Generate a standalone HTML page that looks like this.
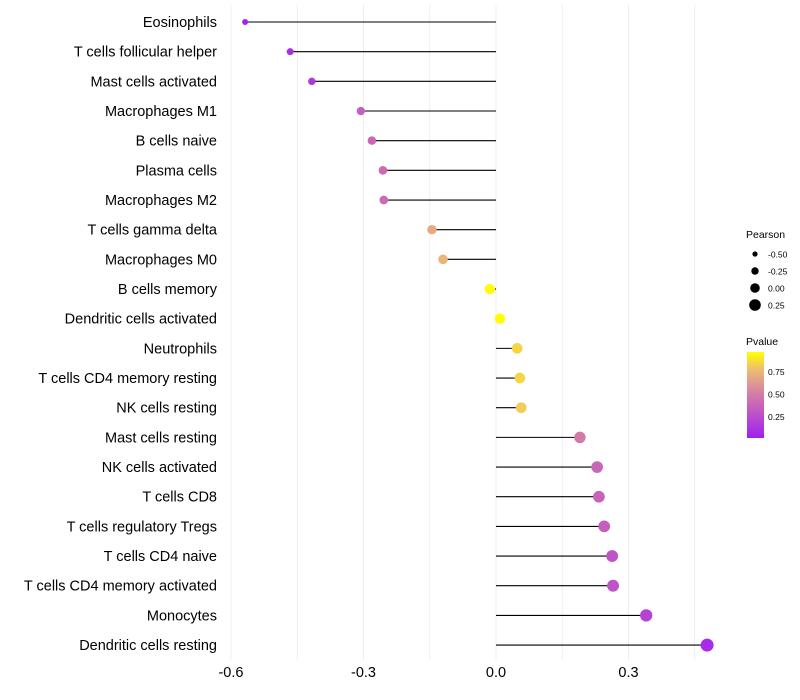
<!DOCTYPE html>
<html><head><meta charset="utf-8"><style>
body{margin:0;background:#fff;}
svg{display:block;font-family:"Liberation Sans",sans-serif;}
</style></head><body>
<svg id="chart" width="800" height="700">
<defs>
<linearGradient id="pg" x1="0" y1="1" x2="0" y2="0">
<stop offset="0" stop-color="#a020f0"/><stop offset="0.5" stop-color="#d47aa8"/><stop offset="0.78" stop-color="#ecb878"/><stop offset="1" stop-color="#ffff00"/>
</linearGradient>
</defs>
<g id="grid"></g><g id="marks"></g><g id="labels"></g>
<g font-size="9.5">
<text x="746" y="238" font-size="10.5">Pearson</text>
<circle cx="755" cy="254" r="2.6" fill="#000"/><text x="768" y="257.5" font-size="8.5">-0.50</text>
<circle cx="755" cy="271" r="3.7" fill="#000"/><text x="768" y="274.5" font-size="8.5">-0.25</text>
<circle cx="755" cy="288" r="4.8" fill="#000"/><text x="768" y="291.5" font-size="8.5">0.00</text>
<circle cx="755" cy="305" r="5.8" fill="#000"/><text x="768" y="308.5" font-size="8.5">0.25</text>
</g>
<g>
<text x="746" y="345" font-size="10.5">Pvalue</text>
<rect x="747" y="352" width="17" height="86" fill="url(#pg)"/>
<text x="768" y="375" font-size="8.5">0.75</text>
<text x="768" y="397.5" font-size="8.5">0.50</text>
<text x="768" y="420" font-size="8.5">0.25</text>
</g>
</svg>
<script>
const categories=["Eosinophils","T cells follicular helper","Mast cells activated","Macrophages M1","B cells naive","Plasma cells","Macrophages M2","T cells gamma delta","Macrophages M0","B cells memory","Dendritic cells activated","Neutrophils","T cells CD4 memory resting","NK cells resting","Mast cells resting","NK cells activated","T cells CD8","T cells regulatory  Tregs ","T cells CD4 naive","T cells CD4 memory activated","Monocytes","Dendritic cells resting"];
const pearson=[-0.568,-0.466,-0.417,-0.306,-0.281,-0.256,-0.254,-0.145,-0.12,-0.014,0.009,0.048,0.054,0.057,0.19,0.229,0.233,0.245,0.263,0.265,0.34,0.478];
const pvalue=[0.05,0.1,0.15,0.35,0.4,0.42,0.42,0.7,0.75,0.97,0.97,0.85,0.85,0.82,0.5,0.4,0.38,0.35,0.3,0.3,0.2,0.08];
const xTicks=[-0.6,-0.3,0.0,0.3];
const xTickLabels=["-0.6","-0.3","0.0","0.3"];
const NS="http://www.w3.org/2000/svg";
const x=v=>496+v*441.7;
const y=i=>22+i*29.67;
const r=p=>Math.sqrt(Math.max(3,27+31.8*p));
function lerp(a,b,t){return a.map((c,k)=>Math.round(c+(b[k]-c)*t));}
const stops=[[0.02,[160,32,240]],[0.5,[212,122,168]],[0.76,[236,184,120]],[0.97,[255,255,0]]];
function col(p){p=Math.max(0.02,Math.min(0.97,p));for(let k=0;k<stops.length-1;k++){const[a,ca]=stops[k],[b,cb]=stops[k+1];if(p<=b){const c=lerp(ca,cb,(p-a)/(b-a));return`rgb(${c})`;}}return"rgb(255,255,0)";}
function mk(t,attrs,parent){const e=document.createElementNS(NS,t);for(const k in attrs)e.setAttribute(k,attrs[k]);parent.appendChild(e);return e;}
const grid=document.getElementById("grid"),marks=document.getElementById("marks"),labels=document.getElementById("labels");
for(let v=-0.6;v<=0.46;v+=0.15){const l=mk("line",{x1:x(v),x2:x(v),y1:5,y2:660,stroke:"#ebebeb","stroke-width":0.8},grid);

}
xTicks.forEach((v,i)=>{const t=mk("text",{x:x(v),y:677,"text-anchor":"middle","font-size":14.5,fill:"#000"},labels);t.textContent=xTickLabels[i];

});
categories.forEach((c,i)=>{
const t=mk("text",{x:217,y:y(i)+5,"text-anchor":"end","font-size":14.5,fill:"#000"},labels);t.textContent=c;


const s=mk("line",{x1:x(0),x2:x(pearson[i]),y1:y(i),y2:y(i),stroke:"#000","stroke-width":1.1},marks);


const d=mk("circle",{cx:x(pearson[i]),cy:y(i),r:r(pearson[i]),fill:col(pvalue[i])},marks);


});
</script>
</body></html>
